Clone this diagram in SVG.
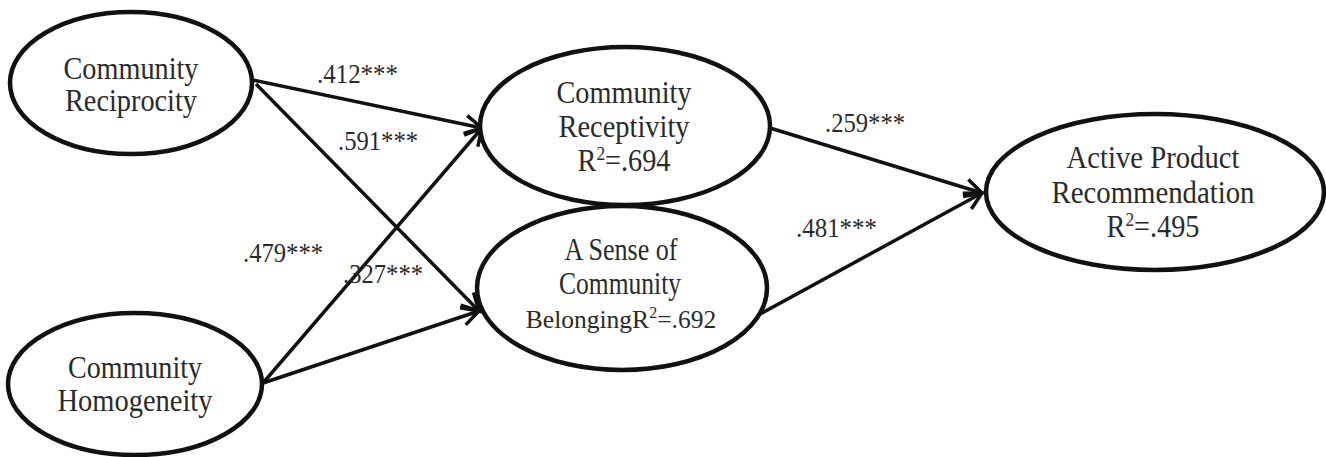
<svg xmlns="http://www.w3.org/2000/svg" width="1326" height="457" viewBox="0 0 1326 457">
<style>
.node ellipse{fill:#fff;stroke:#111;stroke-width:4.5}
.node text{font-family:"Liberation Serif","Times New Roman",serif;font-size:31px;fill:#2a2a2a;text-anchor:middle}
.node text.small{font-size:25.5px}
.sup{font-size:19px;baseline-shift:11px}
.small .sup{font-size:16px;baseline-shift:10px}
.lbl{font-family:"Liberation Serif","Times New Roman",serif;font-size:27px;fill:#2a2a2a}
.conn line{stroke:#111;stroke-width:3.5;marker-end:url(#arr)}
</style>
<defs>
<marker id="arr" markerUnits="userSpaceOnUse" markerWidth="24" markerHeight="24" refX="20" refY="12" orient="auto" overflow="visible">
<path d="M3,3 L20,12 L3,21" fill="none" stroke="#111" stroke-width="3.5"/>
</marker>
</defs>
<rect width="1326" height="457" fill="#fff"/>
<g id="connectors" class="conn">
<line x1="253" y1="80" x2="482" y2="128"/>
<line x1="256" y1="84" x2="479" y2="311"/>
<line x1="263" y1="383" x2="482" y2="128"/>
<line x1="263" y1="383" x2="479" y2="311"/>
<line x1="770" y1="128" x2="982" y2="193"/>
<line x1="760" y1="314" x2="982" y2="193"/>
</g>
<g id="labels">
<text class="lbl" x="317" y="83" textLength="81" lengthAdjust="spacingAndGlyphs">.412***</text>
<text class="lbl" x="338" y="150" textLength="80" lengthAdjust="spacingAndGlyphs">.591***</text>
<text class="lbl" x="243" y="262" textLength="80" lengthAdjust="spacingAndGlyphs">.479***</text>
<text class="lbl" x="343" y="283" textLength="80" lengthAdjust="spacingAndGlyphs">.327***</text>
<text class="lbl" x="825" y="132" textLength="80" lengthAdjust="spacingAndGlyphs">.259***</text>
<text class="lbl" x="796" y="237" textLength="81" lengthAdjust="spacingAndGlyphs">.481***</text>
</g>
<g id="n-reciprocity" class="node">
<ellipse cx="131" cy="83" rx="121" ry="71"/>
<text x="131" y="79" textLength="135" lengthAdjust="spacingAndGlyphs">Community</text>
<text x="131" y="111" textLength="132" lengthAdjust="spacingAndGlyphs">Reciprocity</text>
</g>
<g id="n-homogeneity" class="node">
<ellipse cx="135" cy="384" rx="127" ry="71"/>
<text x="135" y="378" textLength="134" lengthAdjust="spacingAndGlyphs">Community</text>
<text x="135" y="411" textLength="155" lengthAdjust="spacingAndGlyphs">Homogeneity</text>
</g>
<g id="n-receptivity" class="node">
<ellipse cx="625" cy="126" rx="145" ry="79"/>
<text x="624" y="103" textLength="135" lengthAdjust="spacingAndGlyphs">Community</text>
<text x="624" y="137" textLength="131" lengthAdjust="spacingAndGlyphs">Receptivity</text>
<text x="624" y="171" textLength="93" lengthAdjust="spacingAndGlyphs">R<tspan class="sup">2</tspan>=.694</text>
</g>
<g id="n-belonging" class="node">
<ellipse cx="622" cy="288" rx="145" ry="82"/>
<text x="621" y="260" textLength="113" lengthAdjust="spacingAndGlyphs">A Sense of</text>
<text x="620" y="294" textLength="122" lengthAdjust="spacingAndGlyphs">Community</text>
<text class="small" x="621" y="328">BelongingR<tspan class="sup">2</tspan>=.692</text>
</g>
<g id="n-active" class="node">
<ellipse cx="1155" cy="192" rx="169" ry="78"/>
<text x="1153" y="168" textLength="173" lengthAdjust="spacingAndGlyphs">Active Product</text>
<text x="1153" y="203" textLength="203" lengthAdjust="spacingAndGlyphs">Recommendation</text>
<text x="1153" y="237" textLength="93" lengthAdjust="spacingAndGlyphs">R<tspan class="sup">2</tspan>=.495</text>
</g>
</svg>
